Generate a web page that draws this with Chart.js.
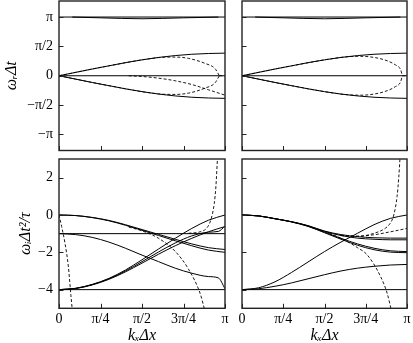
<!DOCTYPE html>
<html>
<head>
<meta charset="utf-8">
<script src="https://cdn.jsdelivr.net/npm/chart.js@4.4.0/dist/chart.umd.min.js"></script>
<style>
  body { margin: 0; background: #fff; }
  #wrap { position: relative; width: 413px; height: 343px; }
  canvas { position: absolute; left: 0; top: 0; }
</style>
</head>
<body>
<div id="wrap">
  <canvas id="topLeft" width="413" height="343"></canvas>
  <canvas id="topRight" width="413" height="343"></canvas>
  <canvas id="botLeft" width="413" height="343"></canvas>
  <canvas id="botRight" width="413" height="343"></canvas>
</div>
<script>
// k_x dx in units of pi
const kGrid = [0, 0.1, 0.2, 0.3, 0.4, 0.5, 0.6, 0.7, 0.8, 0.9, 1];
const kEnds = [0, 1];
const kTickVals = [0, 0.25, 0.5, 0.75, 1];
const kTickLabels = ['0', 'π/4', 'π/2', '3π/4', 'π'];
const wrTickVals = [-Math.PI, -Math.PI / 2, 0, Math.PI / 2, Math.PI];
const wrTickLabels = ['−π', '−π/2', '0', 'π/2', 'π'];
const wiTickVals = [-4, -2, 0, 2];
const wiTickLabels = ['−4', '−2', '0', '2'];

// ---- real part (top panels)
const wrPi = [Math.PI, Math.PI];
const wrZero = [0, 0];
const wrDipK = [0.08, 0.25, 0.5, 0.75, 0.96];
const wrDip = [3.14, 3.1, 3.05, 3.1, 3.14];
const wrUpper = [0, 0.18, 0.36, 0.53, 0.70, 0.85, 0.98, 1.08, 1.15, 1.19, 1.21];
const wrLower = [0, -0.18, -0.36, -0.53, -0.70, -0.85, -0.98, -1.08, -1.15, -1.19, -1.21];

// left: dashed loop + sinking dashed branch
const loopLK = [0, 0.3, 0.6, 0.7, 0.78, 0.88, 0.94, 0.966];
const loopLUp = [0, 0.53, 0.97, 1.0, 0.93, 0.66, 0.38, 0];
const loopLDn = [0, -0.53, -0.97, -1.0, -0.93, -0.66, -0.38, 0];
const tailLK = [0.966, 1];
const sinkLK = [0.42, 0.5, 0.6, 0.7, 0.8, 0.9, 1];
const sinkL = [0, -0.04, -0.13, -0.27, -0.47, -0.75, -1.04];

// right: dashed loop
const loopRK = [0, 0.3, 0.62, 0.72, 0.8, 0.88, 0.93, 0.96, 0.972];
const loopRUp = [0, 0.53, 1.0, 1.04, 0.98, 0.8, 0.58, 0.35, 0];
const loopRDn = [0, -0.53, -1.0, -1.04, -0.98, -0.8, -0.58, -0.35, 0];
const tailRK = [0.972, 1];

// ---- imaginary part, left
const wiM1 = [-1, -1];
const wiM4 = [-4, -4];
const wiLB1 = [0, -0.03, -0.13, -0.29, -0.52, -0.78, -1.04, -1.3, -1.55, -1.75, -1.85];
const wiLB2 = [0, -0.03, -0.14, -0.31, -0.55, -0.82, -1.1, -1.38, -1.65, -1.88, -2.0];
const kLD = [0, 0.1, 0.2, 0.3, 0.4, 0.5, 0.6, 0.7, 0.8, 0.9, 0.96, 1];
const wiLD = [-1, -1.05, -1.2, -1.45, -1.78, -2.15, -2.5, -2.85, -3.12, -3.3, -3.37, -3.95];
const wiLR1 = [-4, -3.93, -3.72, -3.4, -2.95, -2.4, -1.82, -1.25, -0.72, -0.28, 0];
const wiLR3 = [-4, -3.94, -3.75, -3.45, -3.05, -2.58, -2.1, -1.65, -1.25, -0.9, -0.62];
const kLR2 = [0, 0.1, 0.2, 0.3, 0.4, 0.5, 0.6, 0.7, 0.8, 0.9, 0.96, 1];
const wiLR2 = [-4, -3.93, -3.73, -3.42, -3.0, -2.5, -1.98, -1.5, -1.12, -0.92, -0.88, -0.6];
const dLAk = [0, 0.016, 0.036, 0.056, 0.072, 0.08];
const dLA = [0, -0.62, -1.51, -2.73, -4.33, -5.1];
const dLBk = [0.42, 0.5, 0.6, 0.7, 0.78, 0.85, 0.878];
const dLB = [-0.65, -0.85, -1.25, -1.95, -2.9, -4.2, -5.1];
const dLCk = [0.78, 0.85, 0.89, 0.915, 0.935, 0.945, 0.955];
const dLC = [-0.98, -0.9, -0.7, -0.25, 0.6, 1.5, 3.1];

// ---- imaginary part, right
const wiRR1 = [-4, -3.9, -3.58, -3.08, -2.52, -1.96, -1.45, -0.98, -0.52, -0.18, 0];
const wiRR2 = [-4, -3.95, -3.82, -3.64, -3.42, -3.2, -3.0, -2.85, -2.75, -2.68, -2.65];
const wiRE1 = [0, -0.05, -0.2, -0.36, -0.57, -0.86, -1.05, -1.16, -1.22, -1.24, -1.24];
const wiRE2 = [0, -0.05, -0.2, -0.36, -0.58, -0.88, -1.1, -1.24, -1.3, -1.33, -1.33];
const wiRE3 = [0, -0.05, -0.2, -0.37, -0.6, -0.92, -1.25, -1.55, -1.78, -1.92, -1.96];
const wiRE4 = [0, -0.05, -0.2, -0.37, -0.61, -0.95, -1.3, -1.62, -1.86, -1.99, -2.02];
const dRFk = [0.5, 0.6, 0.7, 0.76, 0.84, 0.88, 0.905];
const dRF = [-0.87, -1.25, -1.75, -2.15, -3.3, -4.2, -5.1];
const dRGk = [0.6, 0.7, 0.8, 0.87, 0.9, 0.92, 0.94, 0.95, 0.958];
const dRG = [-1.1, -1.15, -0.98, -0.7, -0.42, 0, 1.0, 2.0, 3.1];
const dRHk = [0.6, 0.7, 0.8, 0.9, 1];
const dRH = [-1.1, -1.13, -1.06, -0.9, -0.72];

const pts = (ks, ws) => ks.map((k, i) => ({ x: k, y: ws[i] }));
const solid = (ks, ws) => ({
  data: pts(ks, ws), borderColor: '#000', borderWidth: 1, pointRadius: 0,
  fill: false, cubicInterpolationMode: 'monotone'
});
const dashed = (ks, ws) => Object.assign(solid(ks, ws), { borderWidth: 0.9, borderDash: [3, 2] });

const tickFont = { family: 'Liberation Serif', size: 14 };
const titleFont = { family: 'Liberation Serif', size: 16, style: 'italic', lineHeight: 1.2 };

const framePlugin = {
  id: 'frame',
  afterDatasetsDraw(chart) {
    const { ctx, chartArea: a, scales } = chart;
    ctx.save();
    ctx.strokeStyle = '#222';
    ctx.lineWidth = 1;
    ctx.beginPath();
    scales.x.ticks.forEach(t => {
      const px = Math.round(scales.x.getPixelForValue(t.value)) + 0.5;
      ctx.moveTo(px, a.bottom); ctx.lineTo(px, a.bottom - 4.5);
    });
    scales.y.ticks.forEach(t => {
      const py = Math.round(scales.y.getPixelForValue(t.value)) + 0.5;
      ctx.moveTo(a.left, py); ctx.lineTo(a.left + 4.5, py);
    });
    ctx.stroke();
    ctx.lineWidth = 1.4;
    ctx.strokeRect(a.left, a.top, a.right - a.left, a.bottom - a.top);
    ctx.restore();
  }
};

function panel(id, g, datasets, ax) {
  const yW = ax.yLabels ? 59 : 0;
  const xH = ax.xLabels ? 34.7 : 0;
  new Chart(document.getElementById(id), {
    type: 'line',
    data: { datasets },
    options: {
      responsive: false,
      animation: false,
      devicePixelRatio: 1,
      events: [],
      layout: { padding: { left: g.left - yW, right: 413 - g.right, top: g.top, bottom: 343 - g.bottom - xH } },
      plugins: { legend: { display: false }, tooltip: { enabled: false } },
      scales: {
        x: {
          type: 'linear', min: 0, max: 1,
          grid: { display: false, drawTicks: false }, border: { display: false },
          afterBuildTicks: s => { s.ticks = kTickVals.map(v => ({ value: v })); },
          afterFit: s => { s.height = xH; s.paddingLeft = 0; s.paddingRight = 0; },
          ticks: {
            display: !!ax.xLabels, autoSkip: false, maxRotation: 0, padding: 3,
            font: tickFont, color: '#000', callback: (v, i) => kTickLabels[i]
          },
          title: { display: !!ax.xLabels, text: 'kₓΔx', font: titleFont, color: '#000', padding: { top: 0, bottom: -2 } }
        },
        y: {
          type: 'linear', min: ax.yMin, max: ax.yMax,
          grid: { display: false, drawTicks: false }, border: { display: false },
          afterBuildTicks: s => { s.ticks = ax.yTicks.map(v => ({ value: v })); },
          afterFit: s => { s.width = yW; s.paddingTop = 0; s.paddingBottom = 0; },
          ticks: {
            display: !!ax.yLabels, autoSkip: false, padding: 6,
            font: tickFont, color: '#000', callback: (v, i) => ax.yTickLabels[i]
          },
          title: { display: !!ax.yLabels, text: ax.yTitle, font: titleFont, color: '#000', padding: { top: ax.yTitlePad, bottom: 0 } }
        }
      }
    },
    plugins: [framePlugin]
  });
}

const topAxes = { yMin: -4, yMax: 4, yTicks: wrTickVals, yTickLabels: wrTickLabels, yTitle: 'ωᵣΔt', yTitlePad: 2 };
const botAxes = { yMin: -5, yMax: 3, yTicks: wiTickVals, yTickLabels: wiTickLabels, yTitle: 'ωᵢΔt²/τ', yTitlePad: 16 };

panel('topLeft', { left: 59, right: 225, top: 1, bottom: 150.5 }, [
  solid(kEnds, wrPi), solid(wrDipK, wrDip), solid(kEnds, wrZero),
  solid(kGrid, wrUpper), solid(kGrid, wrLower),
  dashed(loopLK, loopLUp), dashed(loopLK, loopLDn), dashed(tailLK, wrZero), dashed(sinkLK, sinkL)
], Object.assign({ yLabels: true, xLabels: false }, topAxes));

panel('topRight', { left: 242, right: 407, top: 1, bottom: 150.5 }, [
  solid(kEnds, wrPi), solid(wrDipK, wrDip), solid(kEnds, wrZero),
  solid(kGrid, wrUpper), solid(kGrid, wrLower),
  dashed(loopRK, loopRUp), dashed(loopRK, loopRDn), dashed(tailRK, wrZero)
], Object.assign({ yLabels: false, xLabels: false }, topAxes));

panel('botLeft', { left: 59, right: 225, top: 159, bottom: 308.3 }, [
  solid(kEnds, wiM1), solid(kEnds, wiM4),
  solid(kGrid, wiLB1), solid(kGrid, wiLB2), solid(kLD, wiLD),
  solid(kGrid, wiLR1), solid(kLR2, wiLR2), solid(kGrid, wiLR3),
  dashed(dLAk, dLA), dashed(dLBk, dLB), dashed(dLCk, dLC)
], Object.assign({ yLabels: true, xLabels: true }, botAxes));

panel('botRight', { left: 242, right: 407, top: 159, bottom: 308.3 }, [
  solid(kEnds, wiM4),
  solid(kGrid, wiRR1), solid(kGrid, wiRR2),
  solid(kGrid, wiRE1), solid(kGrid, wiRE2), solid(kGrid, wiRE3), solid(kGrid, wiRE4),
  dashed(dRFk, dRF), dashed(dRGk, dRG), dashed(dRHk, dRH)
], Object.assign({ yLabels: false, xLabels: true }, botAxes));
</script>
</body>
</html>
